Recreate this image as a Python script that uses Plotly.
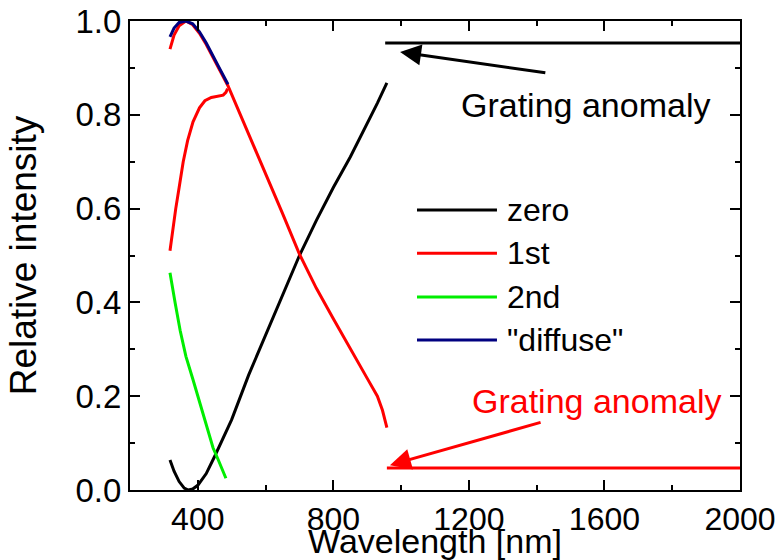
import plotly.graph_objects as go

# ---- data ----
zero_wl = [318, 330, 345, 360, 372, 385, 400, 425, 450, 475, 500, 550, 600, 650, 700, 750, 800, 850, 900, 930, 958]
zero_I = [0.064, 0.040, 0.018, 0.004, 0.0, 0.002, 0.010, 0.035, 0.072, 0.110, 0.150, 0.245, 0.330, 0.415, 0.500, 0.575, 0.645, 0.710, 0.780, 0.825, 0.868]

first_up_wl = [318, 330, 345, 365, 385, 405, 425, 445, 465, 489, 520, 550, 600, 650, 700, 750, 800, 850, 900, 930, 945, 958]
first_up_I = [0.940, 0.970, 0.990, 1.000, 0.992, 0.974, 0.950, 0.924, 0.895, 0.862, 0.810, 0.760, 0.675, 0.590, 0.503, 0.430, 0.365, 0.300, 0.238, 0.200, 0.170, 0.133]

first_low_wl = [318, 325, 335, 345, 357, 370, 386, 405, 421, 440, 460, 475, 483, 488]
first_low_I = [0.510, 0.550, 0.600, 0.645, 0.700, 0.745, 0.785, 0.815, 0.830, 0.837, 0.840, 0.842, 0.848, 0.856]

second_wl = [318, 325, 333, 348, 365, 386, 410, 430, 445, 460, 472, 483]
second_I = [0.463, 0.430, 0.400, 0.340, 0.285, 0.235, 0.175, 0.125, 0.090, 0.065, 0.045, 0.025]

diffuse_wl = [318, 330, 345, 365, 385, 405, 425, 445, 465, 489]
diffuse_I = [0.966, 0.985, 0.997, 1.000, 0.994, 0.977, 0.953, 0.927, 0.898, 0.865]

zero_anom_wl = [953, 2000]
zero_anom_I = [0.953, 0.953]
first_anom_wl = [958, 2000]
first_anom_I = [0.047, 0.047]

series_names = ["zero", "1st", "2nd", "\"diffuse\""]
series_colors = ["#000000", "#ff0000", "#00ee00", "#000080"]

x_ticks = [400, 800, 1200, 1600, 2000]
y_ticks = [0.0, 0.2, 0.4, 0.6, 0.8, 1.0]

FONT = "Liberation Sans, Arial, sans-serif"
LW = 3
TICK_FS = 32
ANN_FS = 34
LEG_FS = 32

fig = go.Figure()
fig.add_trace(go.Scatter(x=zero_wl, y=zero_I, mode="lines", line=dict(color=series_colors[0], width=LW)))
fig.add_trace(go.Scatter(x=zero_anom_wl, y=zero_anom_I, mode="lines", line=dict(color=series_colors[0], width=LW)))
fig.add_trace(go.Scatter(x=first_low_wl, y=first_low_I, mode="lines", line=dict(color=series_colors[1], width=LW)))
fig.add_trace(go.Scatter(x=first_up_wl, y=first_up_I, mode="lines", line=dict(color=series_colors[1], width=LW)))
fig.add_trace(go.Scatter(x=first_anom_wl, y=first_anom_I, mode="lines", line=dict(color=series_colors[1], width=LW)))
fig.add_trace(go.Scatter(x=second_wl, y=second_I, mode="lines", line=dict(color=series_colors[2], width=LW)))
fig.add_trace(go.Scatter(x=diffuse_wl, y=diffuse_I, mode="lines", line=dict(color=series_colors[3], width=LW)))

# manual legend (long line samples like the reference)
leg_y = [0.597, 0.505, 0.4115, 0.32]
for name, col, yy in zip(series_names, series_colors, leg_y):
    fig.add_shape(type="line", xref="paper", yref="paper", x0=0.4705, x1=0.6016, y0=yy, y1=yy,
                  line=dict(color=col, width=LW))
    fig.add_annotation(xref="paper", yref="paper", x=0.615, y=yy, text=name, showarrow=False,
                       xanchor="left", yanchor="middle", font=dict(size=LEG_FS, color="black", family=FONT))

# grating anomaly annotations
fig.add_annotation(x=997, y=0.934, ax=1430, ay=0.889, axref="x", ayref="y", xref="x", yref="y",
                   text="", showarrow=True, arrowhead=2, arrowsize=1.4, arrowwidth=3, arrowcolor="black")
fig.add_annotation(x=1543, y=0.821, text="Grating anomaly", showarrow=False,
                   font=dict(size=ANN_FS, color="black", family=FONT))
fig.add_annotation(x=967, y=0.053, ax=1416, ay=0.145, axref="x", ayref="y", xref="x", yref="y",
                   text="", showarrow=True, arrowhead=2, arrowsize=1.4, arrowwidth=3, arrowcolor="red")
fig.add_annotation(x=1578, y=0.190, text="Grating anomaly", showarrow=False,
                   font=dict(size=ANN_FS, color="red", family=FONT))

axis_common = dict(showline=True, linecolor="black", linewidth=2, mirror="ticks",
                   ticks="inside", ticklen=10, tickwidth=2, tickcolor="black",
                   showgrid=False, zeroline=False, automargin=False,
                   tickfont=dict(size=TICK_FS, color="black", family=FONT))

fig.update_xaxes(range=[200, 2000], tickvals=x_ticks, ticktext=[str(v) for v in x_ticks],
                 minor=dict(ticks="inside", ticklen=5, tickwidth=2, tickcolor="black", dtick=200, tick0=0, showgrid=False),
                 title=dict(text="Wavelength [nm]", font=dict(size=34, color="black", family=FONT), standoff=2),
                 **axis_common)
fig.update_yaxes(range=[0, 1.0], tickvals=y_ticks, ticktext=[f"{v:.1f}" for v in y_ticks],
                 tickfont=None,
                 minor=dict(ticks="inside", ticklen=5, tickwidth=2, tickcolor="black", dtick=0.1, tick0=0, showgrid=False),
                 title=dict(text="Relative intensity", font=dict(size=37, color="black", family=FONT), standoff=28),
                 **{k: v for k, v in axis_common.items() if k != "tickfont"})
fig.update_yaxes(tickfont=dict(size=33, color="black", family=FONT))

fig.update_layout(width=780, height=560, showlegend=False,
                  margin=dict(l=130, r=40, t=21, b=70),
                  plot_bgcolor="white", paper_bgcolor="white",
                  font=dict(family=FONT, color="black"))

fig.write_html("out.html")
